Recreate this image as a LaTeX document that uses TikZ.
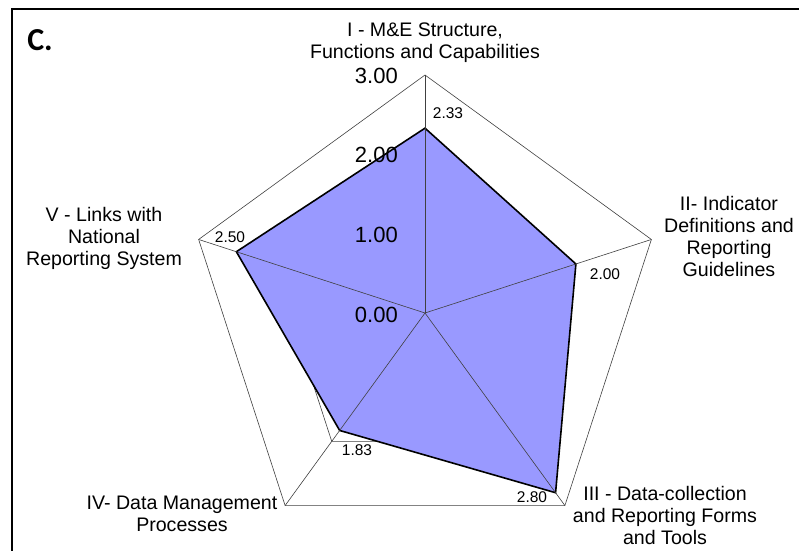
\documentclass[tikz,border=0pt]{standalone}
\usepackage{fontspec}
\setmainfont{Liberation Sans}
\newfontfamily\calfont{Carlito}
\definecolor{datafill}{RGB}{153,153,255}
\begin{document}
\begin{tikzpicture}[x=1pt,y=-1pt,
  gridline/.style={draw=black!75, line width=0.6pt},
  dataline/.style={draw=black, line width=1.6pt, fill=datafill, line join=miter},
  axislabel/.style={align=center, inner sep=0pt, font=\fontsize{19.6}{22}\selectfont},
  scalelabel/.style={anchor=east, inner sep=0pt, font=\fontsize{22}{26}\selectfont},
  valuelabel/.style={inner sep=0pt, font=\fontsize{15.5}{18}\selectfont},
  framebox/.style={draw=black, line width=2pt}]
\useasboundingbox (0,0) rectangle (799,550);
\coordinate (O) at (425,313);
\foreach \n/\a in {I/90,II/18,III/-54,IV/-126,V/162} {
  \foreach \k in {1,2,3} {
    \coordinate (\n\k) at ({425+238*\k/3*cos(\a)},{313-238*\k/3*sin(\a)});
  }
}
\foreach \n/\a/\v in {I/90/2.33,II/18/2.00,III/-54/2.80,IV/-126/1.83,V/162/2.50} {
  \coordinate (d\n) at ({425+238*\v/3*cos(\a)},{313-238*\v/3*sin(\a)});
}
% frame
\coordinate (fbl) at (12,551);
\coordinate (ftl) at (12,9);
\coordinate (ftr) at (800,9);
\draw[framebox] (fbl) -- (ftl) -- (ftr);
% rings
\foreach \k in {1,2,3} {
  \draw[gridline] (I\k) -- (II\k) -- (III\k) -- (IV\k) -- (V\k) -- cycle;
}
% data
\draw[dataline] (dI) -- (dII) -- (dIII) -- (dIV) -- (dV) -- cycle;
% spokes
\foreach \n in {I,II,III,IV,V} {
  \draw[gridline] (O) -- (\n3);
}
% title
\node[inner sep=0pt, font=\calfont\bfseries\fontsize{32}{34}\selectfont] (title) at (40,40) {C.};
% scale labels
\node[scalelabel] (s3) at (398,76) {3.00};
\node[scalelabel] (s2) at (398,155) {2.00};
\node[scalelabel] (s1) at (398,235) {1.00};
\node[scalelabel] (s0) at (398,315) {0.00};
% value labels
\node[valuelabel] (vI) at (448,113) {2.33};
\node[valuelabel] (vII) at (605,274) {2.00};
\node[valuelabel] (vIII) at (532,497) {2.80};
\node[valuelabel] (vIV) at (357,450) {1.83};
\node[valuelabel] (vV) at (230,237) {2.50};
% axis labels
\node[axislabel] (lI) at (425,43) {I - M\&E Structure,\\Functions and Capabilities};
\node[axislabel] (lII) at (729,236) {II- Indicator\\Definitions and\\Reporting\\Guidelines};
\node[axislabel] (lIII) at (665,515) {III - Data-collection\\and Reporting Forms\\and Tools};
\node[axislabel] (lIV) at (182,514) {IV- Data Management\\Processes};
\node[axislabel] (lV) at (104,238) {V - Links with\\National\\Reporting System};
\end{tikzpicture}
\end{document}
